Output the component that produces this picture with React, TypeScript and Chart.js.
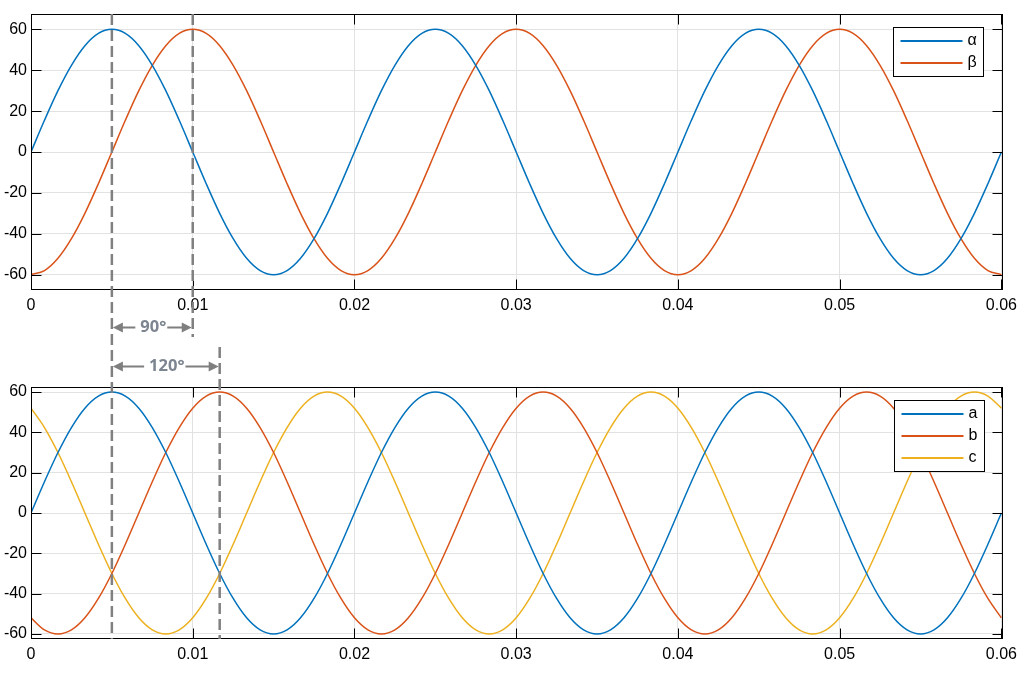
import React, { useEffect, useRef } from "react";
import { Chart, registerables } from "chart.js";
Chart.register(...registerables);

// sample times (s)
const TIME = [
  0, 0.000833, 0.001667, 0.0025, 0.003333, 0.004167, 0.005, 0.005833, 0.006667, 0.0075, 0.008333, 0.009167,
  0.01, 0.010833, 0.011667, 0.0125, 0.013333, 0.014167, 0.015, 0.015833, 0.016667, 0.0175, 0.018333, 0.019167,
  0.02, 0.020833, 0.021667, 0.0225, 0.023333, 0.024167, 0.025, 0.025833, 0.026667, 0.0275, 0.028333, 0.029167,
  0.03, 0.030833, 0.031667, 0.0325, 0.033333, 0.034167, 0.035, 0.035833, 0.036667, 0.0375, 0.038333, 0.039167,
  0.04, 0.040833, 0.041667, 0.0425, 0.043333, 0.044167, 0.045, 0.045833, 0.046667, 0.0475, 0.048333, 0.049167,
  0.05, 0.050833, 0.051667, 0.0525, 0.053333, 0.054167, 0.055, 0.055833, 0.056667, 0.0575, 0.058333, 0.059167,
  0.06,
];

const ALPHA = [
  0, 15.5, 30, 42.4, 52, 58, 60, 58, 52, 42.4, 30, 15.5, 0, -15.5, -30, -42.4, -52, -58, -60, -58, -52, -42.4, -30, -15.5,
  0, 15.5, 30, 42.4, 52, 58, 60, 58, 52, 42.4, 30, 15.5, 0, -15.5, -30, -42.4, -52, -58, -60, -58, -52, -42.4, -30, -15.5,
  0, 15.5, 30, 42.4, 52, 58, 60, 58, 52, 42.4, 30, 15.5, 0, -15.5, -30, -42.4, -52, -58, -60, -58, -52, -42.4, -30, -15.5,
  0,
];
const BETA = [
  -60, -58, -52, -42.4, -30, -15.5, 0, 15.5, 30, 42.4, 52, 58, 60, 58, 52, 42.4, 30, 15.5, 0, -15.5, -30, -42.4, -52, -58,
  -60, -58, -52, -42.4, -30, -15.5, 0, 15.5, 30, 42.4, 52, 58, 60, 58, 52, 42.4, 30, 15.5, 0, -15.5, -30, -42.4, -52, -58,
  -60, -58, -52, -42.4, -30, -15.5, 0, 15.5, 30, 42.4, 52, 58, 60, 58, 52, 42.4, 30, 15.5, 0, -15.5, -30, -42.4, -52, -58,
  -60,
];
const PHASE_A = [
  0, 15.5, 30, 42.4, 52, 58, 60, 58, 52, 42.4, 30, 15.5, 0, -15.5, -30, -42.4, -52, -58, -60, -58, -52, -42.4, -30, -15.5,
  0, 15.5, 30, 42.4, 52, 58, 60, 58, 52, 42.4, 30, 15.5, 0, -15.5, -30, -42.4, -52, -58, -60, -58, -52, -42.4, -30, -15.5,
  0, 15.5, 30, 42.4, 52, 58, 60, 58, 52, 42.4, 30, 15.5, 0, -15.5, -30, -42.4, -52, -58, -60, -58, -52, -42.4, -30, -15.5,
  0,
];
const PHASE_B = [
  -52, -58, -60, -58, -52, -42.4, -30, -15.5, 0, 15.5, 30, 42.4, 52, 58, 60, 58, 52, 42.4, 30, 15.5, 0, -15.5, -30, -42.4,
  -52, -58, -60, -58, -52, -42.4, -30, -15.5, 0, 15.5, 30, 42.4, 52, 58, 60, 58, 52, 42.4, 30, 15.5, 0, -15.5, -30, -42.4,
  -52, -58, -60, -58, -52, -42.4, -30, -15.5, 0, 15.5, 30, 42.4, 52, 58, 60, 58, 52, 42.4, 30, 15.5, 0, -15.5, -30, -42.4,
  -52,
];
const PHASE_C = [
  52, 42.4, 30, 15.5, 0, -15.5, -30, -42.4, -52, -58, -60, -58, -52, -42.4, -30, -15.5, 0, 15.5, 30, 42.4, 52, 58, 60, 58,
  52, 42.4, 30, 15.5, 0, -15.5, -30, -42.4, -52, -58, -60, -58, -52, -42.4, -30, -15.5, 0, 15.5, 30, 42.4, 52, 58, 60, 58,
  52, 42.4, 30, 15.5, 0, -15.5, -30, -42.4, -52, -58, -60, -58, -52, -42.4, -30, -15.5, 0, 15.5, 30, 42.4, 52, 58, 60, 58,
  52,
];

const X_TICKS = [0, 0.01, 0.02, 0.03, 0.04, 0.05, 0.06];
const X_TICK_LABELS = ["0", "0.01", "0.02", "0.03", "0.04", "0.05", "0.06"];
const Y_TICKS = [-60, -40, -20, 0, 20, 40, 60];
const Y_TICK_LABELS = ["-60", "-40", "-20", "0", "20", "40", "60"];

const TOP_LABELS = ["α", "β"];
const BOTTOM_LABELS = ["a", "b", "c"];
const COLORS = ["#0072BD", "#D95319", "#EDB120"];

const SHIFT_90 = [0.005, 0.01];
const SHIFT_90_LABEL = "90°";
const SHIFT_120 = [0.005, 0.011667];
const SHIFT_120_LABEL = "120°";

const FONT = '"Liberation Sans", Arial, sans-serif';
const W = 1028;
const TOP_H = 340;
const BOT_H = 342;

const pts = (ys: number[]) => ys.map((y, i) => ({ x: TIME[i], y }));

const framePlugin = {
  id: "frame",
  afterDraw(chart: any) {
    const { ctx, chartArea: a, scales } = chart;
    ctx.save();
    ctx.strokeStyle = "#000";
    ctx.lineWidth = 1;
    ctx.beginPath();
    const L = Math.round(a.left) + 0.5;
    const R = Math.round(a.right) - 0.5;
    const T = Math.round(a.top) + 0.5;
    const B = Math.round(a.bottom) - 0.5;
    for (const v of X_TICKS) {
      const px = Math.round(scales.x.getPixelForValue(v)) + 0.5;
      ctx.moveTo(px, B);
      ctx.lineTo(px, B - 10);
      ctx.moveTo(px, T);
      ctx.lineTo(px, T + 10);
    }
    for (const v of Y_TICKS) {
      const py = Math.round(scales.y.getPixelForValue(v)) + 0.5;
      ctx.moveTo(L, py);
      ctx.lineTo(L + 10, py);
      ctx.moveTo(R, py);
      ctx.lineTo(R - 10, py);
    }
    ctx.stroke();
    ctx.strokeRect(L, T, R - L, B - T);

    // legend box
    const lg = chart.options.plugins.boxLegend;
    const ds = chart.data.datasets;
    const bw = 90;
    const rowH = 22;
    const bh = 27 + rowH * (ds.length - 1);
    const bx = Math.round(a.right - lg.right - bw) + 0.5;
    const by = Math.round(a.top + lg.top) + 0.5;
    ctx.fillStyle = "#fff";
    ctx.fillRect(bx, by, bw, bh);
    ctx.strokeRect(bx, by, bw, bh);
    ctx.font = `16px ${FONT}`;
    ctx.textBaseline = "middle";
    ctx.textAlign = "left";
    ds.forEach((d: any, i: number) => {
      const y = by + 13.5 + rowH * i;
      ctx.strokeStyle = d.borderColor;
      ctx.lineWidth = 2;
      ctx.beginPath();
      ctx.moveTo(bx + 7, y);
      ctx.lineTo(bx + 69, y);
      ctx.stroke();
      ctx.fillStyle = "#000";
      ctx.fillText(d.label, bx + 74, y);
    });
    ctx.restore();
  },
};

function makeConfig(labels: string[], series: number[][], yMax: number, padTop: number, padBottom: number, legendTop: number, legendRight: number): any {
  return {
    type: "line",
    data: {
      datasets: series.map((s, i) => ({
        label: labels[i],
        data: pts(s),
        borderColor: COLORS[i],
        backgroundColor: COLORS[i],
        borderWidth: 1.5,
        pointRadius: 0,
        cubicInterpolationMode: "monotone",
        fill: false,
      })),
    },
    options: {
      animation: false,
      responsive: false,
      devicePixelRatio: 1,
      layout: { padding: { left: 0, right: 25, top: padTop, bottom: padBottom } },
      plugins: {
        legend: { display: false },
        tooltip: { enabled: false },
        boxLegend: { top: legendTop, right: legendRight },
      },
      scales: {
        x: {
          type: "linear",
          min: 0,
          max: 0.0601,
          afterBuildTicks: (s: any) => {
            s.ticks = X_TICKS.map((v) => ({ value: v }));
          },
          afterFit: (s: any) => {
            s.height = 30;
          },
          grid: { color: "#e2e2e2", lineWidth: 1, drawTicks: false },
          border: { display: false },
          ticks: {
            autoSkip: false,
            maxRotation: 0,
            padding: 6,
            color: "#000",
            font: { family: FONT, size: 16 },
            callback: (_v: any, i: number) => X_TICK_LABELS[i],
          },
        },
        y: {
          type: "linear",
          min: -yMax,
          max: yMax,
          afterBuildTicks: (s: any) => {
            s.ticks = Y_TICKS.map((v) => ({ value: v }));
          },
          afterFit: (s: any) => {
            s.width = 31;
          },
          grid: { color: "#e2e2e2", lineWidth: 1, drawTicks: false },
          border: { display: false },
          ticks: {
            autoSkip: false,
            padding: 4,
            color: "#000",
            font: { family: FONT, size: 16 },
            callback: (_v: any, i: number) => Y_TICK_LABELS[i],
          },
        },
      },
    },
    plugins: [framePlugin],
  };
}

function drawArrow(ctx: CanvasRenderingContext2D, x1: number, x2: number, y: number, text: string) {
  ctx.save();
  ctx.setLineDash([]);
  ctx.font = `bold 16.5px "Open Sans", "DejaVu Sans", sans-serif`;
  const w = ctx.measureText(text).width;
  const cx = (x1 + x2) / 2 + 1;
  const head = 10;
  const hw = 5;
  ctx.strokeStyle = "#7f7f7f";
  ctx.fillStyle = "#7f7f7f";
  ctx.lineWidth = 2.2;
  ctx.beginPath();
  ctx.moveTo(x1 + head, y);
  ctx.lineTo(cx - w / 2 - 5, y);
  ctx.moveTo(cx + w / 2 + 1, y);
  ctx.lineTo(x2 - head, y);
  ctx.stroke();
  ctx.beginPath();
  ctx.moveTo(x1 + 1, y);
  ctx.lineTo(x1 + 1 + head, y - hw);
  ctx.lineTo(x1 + 1 + head, y + hw);
  ctx.closePath();
  ctx.fill();
  ctx.beginPath();
  ctx.moveTo(x2 - 1, y);
  ctx.lineTo(x2 - 1 - head, y - hw);
  ctx.lineTo(x2 - 1 - head, y + hw);
  ctx.closePath();
  ctx.fill();
  ctx.fillStyle = "#7d8590";
  ctx.textAlign = "center";
  ctx.textBaseline = "middle";
  ctx.fillText(text, cx, y);
  ctx.restore();
}

function dashed(ctx: CanvasRenderingContext2D, x: number, y1: number, y2: number) {
  ctx.save();
  ctx.strokeStyle = "#808080";
  ctx.lineWidth = 2.5;
  ctx.setLineDash([11, 5]);
  ctx.beginPath();
  ctx.moveTo(x, y1);
  ctx.lineTo(x, y2);
  ctx.stroke();
  ctx.restore();
}

export default function App() {
  const topRef = useRef<HTMLCanvasElement>(null);
  const botRef = useRef<HTMLCanvasElement>(null);
  const ovRef = useRef<HTMLCanvasElement>(null);

  useEffect(() => {
    const top = new Chart(topRef.current!, makeConfig(TOP_LABELS, [ALPHA, BETA], 67.5, 14, 20, 13, 20));
    const bot = new Chart(botRef.current!, makeConfig(BOTTOM_LABELS, [PHASE_A, PHASE_B, PHASE_C], 62.5, 47, 13, 13, 19));

    const ov = ovRef.current!;
    const ctx = ov.getContext("2d")!;
    ctx.clearRect(0, 0, ov.width, ov.height);
    const xp = (v: number) => top.scales.x.getPixelForValue(v);
    const tA = top.chartArea;
    const bA = bot.chartArea;
    const off = TOP_H;
    const x0 = xp(SHIFT_90[0]);
    const x90 = xp(SHIFT_90[1]);
    const x120 = bot.scales.x.getPixelForValue(SHIFT_120[1]);
    dashed(ctx, x0, tA.top, off + bA.bottom);
    dashed(ctx, x90, tA.top, 337);
    dashed(ctx, x120, 347, off + bA.bottom);
    drawArrow(ctx, x0, x90, 327.5, SHIFT_90_LABEL);
    drawArrow(ctx, bot.scales.x.getPixelForValue(SHIFT_120[0]), x120, 366.5, SHIFT_120_LABEL);

    return () => {
      top.destroy();
      bot.destroy();
    };
  }, []);

  return (
    <div style={{ position: "fixed", left: 0, top: 0, width: W, height: TOP_H + BOT_H, background: "#fff" }}>
      <canvas ref={topRef} width={W} height={TOP_H} style={{ position: "absolute", left: 0, top: 0, width: W, height: TOP_H }} />
      <canvas ref={botRef} width={W} height={BOT_H} style={{ position: "absolute", left: 0, top: TOP_H, width: W, height: BOT_H }} />
      <canvas ref={ovRef} width={W} height={TOP_H + BOT_H} style={{ position: "absolute", left: 0, top: 0, width: W, height: TOP_H + BOT_H, pointerEvents: "none" }} />
    </div>
  );
}
